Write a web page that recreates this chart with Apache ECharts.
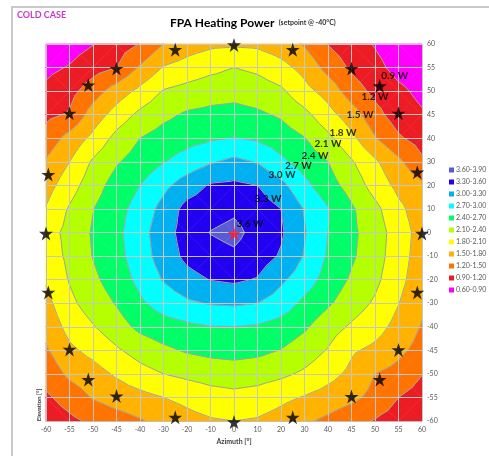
<!DOCTYPE html>
<html>
<head>
<meta charset="utf-8">
<script src="https://cdn.jsdelivr.net/npm/echarts@6/dist/echarts.min.js"></script>
<style>
  html, body { margin: 0; padding: 0; background: #ffffff; }
  #chart { width: 489px; height: 456px; }
</style>
</head>
<body>
<div id="chart"></div>
<script>
// Sample grid: azimuth columns and elevation rows (top row = +60°)
const azimuth = [-60, -55, -50, -45, -40, -30, -20, -10, 0, 10, 20, 30, 40, 45, 50, 55, 60];
const elevation = [60, 55, 50, 45, 40, 30, 20, 10, 0, -10, -20, -30, -40, -45, -50, -55, -60];

// FPA heating power [W], one row per elevation, columns follow azimuth
const p60  = [0.70, 0.77, 0.89, 1.06, 1.21, 1.50, 1.66, 1.74, 1.76, 1.74, 1.64, 1.47, 1.19, 1.03, 0.88, 0.74, 0.64];
const p55  = [0.83, 0.92, 1.08, 1.20, 1.53, 1.82, 1.92, 2.02, 2.10, 2.04, 1.90, 1.70, 1.40, 1.15, 0.98, 0.81, 0.73];
const p50  = [0.96, 1.10, 1.36, 1.64, 1.88, 2.12, 2.20, 2.27, 2.30, 2.25, 2.15, 1.90, 1.68, 1.35, 1.12, 0.96, 0.83];
const p45  = [1.13, 1.23, 1.63, 1.93, 2.17, 2.33, 2.44, 2.48, 2.50, 2.45, 2.36, 2.18, 1.91, 1.64, 1.30, 1.05, 0.93];
const p40  = [1.32, 1.60, 1.88, 2.19, 2.40, 2.52, 2.60, 2.66, 2.71, 2.66, 2.55, 2.41, 2.17, 1.88, 1.52, 1.24, 1.08];
const p30  = [1.53, 1.80, 2.14, 2.37, 2.53, 2.69, 2.82, 2.97, 3.07, 2.98, 2.76, 2.57, 2.40, 2.13, 1.85, 1.56, 1.25];
const p20  = [1.68, 1.97, 2.27, 2.52, 2.70, 2.92, 3.15, 3.33, 3.36, 3.30, 3.08, 2.78, 2.52, 2.28, 1.98, 1.72, 1.56];
const p10  = [1.82, 2.13, 2.39, 2.60, 2.81, 3.10, 3.40, 3.48, 3.55, 3.45, 3.30, 2.98, 2.72, 2.44, 2.18, 1.87, 1.64];
const p0   = [1.97, 2.19, 2.43, 2.63, 2.88, 3.18, 3.42, 3.61, 3.68, 3.50, 3.34, 3.02, 2.70, 2.46, 2.25, 1.95, 1.68];
const m10  = [1.92, 2.17, 2.41, 2.61, 2.85, 3.14, 3.37, 3.49, 3.55, 3.44, 3.27, 2.98, 2.67, 2.44, 2.23, 1.93, 1.66];
const m20  = [1.83, 2.12, 2.34, 2.54, 2.78, 3.02, 3.20, 3.31, 3.35, 3.28, 3.05, 2.85, 2.58, 2.36, 2.17, 1.89, 1.62];
const m30  = [1.71, 2.03, 2.24, 2.42, 2.65, 2.83, 2.95, 3.02, 3.04, 3.00, 2.86, 2.63, 2.44, 2.24, 2.06, 1.81, 1.55];
const m40  = [1.59, 1.90, 2.08, 2.27, 2.47, 2.57, 2.64, 2.69, 2.70, 2.67, 2.58, 2.44, 2.23, 2.06, 1.92, 1.70, 1.48];
const m45  = [1.46, 1.74, 1.89, 2.06, 2.22, 2.34, 2.43, 2.48, 2.50, 2.47, 2.39, 2.26, 2.08, 1.84, 1.73, 1.57, 1.39];
const m50  = [1.31, 1.56, 1.68, 1.84, 1.99, 2.10, 2.17, 2.23, 2.26, 2.23, 2.16, 2.05, 1.90, 1.73, 1.50, 1.40, 1.21];
const m55  = [1.15, 1.33, 1.52, 1.63, 1.71, 1.80, 1.88, 1.97, 2.01, 1.97, 1.87, 1.78, 1.68, 1.57, 1.41, 1.20, 1.08];
const m60  = [1.00, 1.13, 1.26, 1.37, 1.47, 1.60, 1.70, 1.77, 1.80, 1.77, 1.68, 1.55, 1.43, 1.29, 1.18, 1.07, 0.97];
const powerRows = [p60, p55, p50, p45, p40, p30, p20, p10, p0, m10, m20, m30, m40, m45, m50, m55, m60];

// Contour levels and band colours (low to high)
const levels = [0.6, 0.9, 1.2, 1.5, 1.8, 2.1, 2.4, 2.7, 3.0, 3.3, 3.6, 3.9];
const bandColors = ['#ff00ff', '#ed1c24', '#ff7300', '#ffb300', '#ffff00', '#b4ff00',
                    '#00ff66', '#00ffff', '#00b0f0', '#2200f0', '#5a5ad6'];

// Star markers (azimuth, elevation in degrees)
const starAz = [0, -25, 25, -45, 45, -51, 51, -55, 55, -59.5, 59, -60, 60,
                -59.5, 59, -55, 55, -51, 51, -45, 45, -25, 25, 0];
const starEl = [60, 59, 59, 55, 55, 51.5, 51.3, 45.5, 45.5, 25, 26, 0, 0,
                -25, -25, -44.6, -44.7, -51, -51, -54.5, -54.6, -59, -59, -60];
const peakAz = [0];
const peakEl = [0];

// Contour annotations: level shown and anchor (azimuth, elevation)
const tagLevels = [3.6, 3.3, 3.0, 2.7, 2.4, 2.1, 1.8, 1.5, 1.2, 0.9];
const tagAz = [6.8, 14.5, 20.4, 27.4, 34.5, 40.0, 43.2, 46.8, 50.0, 54.2];
const tagEl = [3.8, 14.5, 24.7, 28.2, 32.5, 37.7, 41.2, 44.9, 48.8, 53.2];

const FONT = 'Lato, "Open Sans", "DejaVu Sans", sans-serif';
const n = azimuth.length;
const elevationAsc = elevation.slice().reverse();

// piecewise-linear map from degrees to the (evenly spaced) sample index
function toIndex(cats, v) {
  for (let k = 0; k < cats.length - 1; k++) {
    const a = cats[k], b = cats[k + 1];
    if (v >= Math.min(a, b) && v <= Math.max(a, b)) return k + (v - a) / (b - a);
  }
  return v < cats[0] ? 0 : cats.length - 1;
}
const azIdx = v => toIndex(azimuth, v);
const elIdx = v => toIndex(elevationAsc, v);

function val(ix, iy) { return powerRows[n - 1 - iy][ix]; }

// split each grid cell into four triangles around its mean value
const triangles = [];
for (let ix = 0; ix < n - 1; ix++) {
  for (let iy = 0; iy < n - 1; iy++) {
    const a = [ix, iy, val(ix, iy)];
    const b = [ix + 1, iy, val(ix + 1, iy)];
    const c = [ix + 1, iy + 1, val(ix + 1, iy + 1)];
    const d = [ix, iy + 1, val(ix, iy + 1)];
    const m = [ix + 0.5, iy + 0.5, (a[2] + b[2] + c[2] + d[2]) / 4];
    triangles.push([a, b, m], [b, c, m], [c, d, m], [d, a, m]);
  }
}

function clip(poly, lvl, above) {
  const out = [];
  for (let k = 0; k < poly.length; k++) {
    const p = poly[k], q = poly[(k + 1) % poly.length];
    const pin = above ? p[2] >= lvl : p[2] <= lvl;
    const qin = above ? q[2] >= lvl : q[2] <= lvl;
    if (pin) out.push(p);
    if (pin !== qin) {
      const t = (lvl - p[2]) / (q[2] - p[2]);
      out.push([p[0] + t * (q[0] - p[0]), p[1] + t * (q[1] - p[1]), lvl]);
    }
  }
  return out;
}

const bandNames = [];
const bandPolys = [];
for (let k = 0; k < levels.length - 1; k++) {
  const lo = levels[k], hi = levels[k + 1];
  bandNames.push(lo.toFixed(2) + '-' + hi.toFixed(2));
  const polys = [];
  triangles.forEach(t => {
    const p = clip(clip(t, lo, true), hi, false);
    if (p.length >= 3) polys.push(p);
  });
  bandPolys.push(polys);
}

// iso-line segments at every inner level
const segments = [];
levels.slice(1, -1).forEach(L0 => {
  const L = L0 + 1e-7;
  triangles.forEach(t => {
    const pts = [];
    for (let k = 0; k < 3; k++) {
      const p = t[k], q = t[(k + 1) % 3];
      if ((p[2] - L) * (q[2] - L) < 0) {
        const s = (L - p[2]) / (q[2] - p[2]);
        pts.push([p[0] + s * (q[0] - p[0]), p[1] + s * (q[1] - p[1])]);
      }
    }
    if (pts.length === 2) segments.push([pts[0][0], pts[0][1], pts[1][0], pts[1][1]]);
  });
});

function starPath() {
  let d = '';
  for (let k = 0; k < 10; k++) {
    const ang = (-90 + 36 * k) * Math.PI / 180;
    const r = k % 2 ? 19.1 : 50;
    const x = (50 + r * Math.cos(ang)).toFixed(2);
    const y = (50 + r * Math.sin(ang)).toFixed(2);
    d += (k === 0 ? 'M' : 'L') + x + ' ' + y + ' ';
  }
  return 'path://' + d + 'Z';
}
const STAR = starPath();

const bandSeries = bandPolys.map((polys, k) => ({
  type: 'custom',
  name: bandNames[k],
  coordinateSystem: 'cartesian2d',
  silent: true,
  animation: false,
  z: 1,
  itemStyle: { color: bandColors[k] },
  data: polys.map(p => [p[0][0], p[0][1]]),
  renderItem: (params, api) => {
    const poly = polys[params.dataIndex];
    return {
      type: 'polygon',
      shape: { points: poly.map(p => api.coord([p[0], p[1]])) },
      style: { fill: bandColors[k], stroke: bandColors[k], lineWidth: 0.7 }
    };
  }
}));

const option = {
  animation: false,
  backgroundColor: '#ffffff',
  textStyle: { fontFamily: FONT },
  title: [
    {
      text: 'COLD CASE', left: 17, top: 11, padding: 0,
      textStyle: { fontSize: 9, fontWeight: 'bold', color: '#c33cc3', fontFamily: FONT }
    },
    {
      text: '{t|FPA Heating Power} {s|(setpoint @ -40°C)}', left: 170, top: 14, padding: 0,
      textStyle: {
        fontFamily: FONT,
        rich: {
          t: { fontSize: 12, fontWeight: 'bold', color: '#000000', fontFamily: FONT },
          s: { fontSize: 7, color: '#333333', fontFamily: FONT }
        }
      }
    }
  ],
  legend: {
    orient: 'vertical', left: 449, top: 166, padding: 0,
    itemWidth: 5, itemHeight: 5, itemGap: 4, icon: 'rect',
    selectedMode: false,
    data: bandNames.slice().reverse(),
    textStyle: { fontSize: 7, color: '#595959', lineHeight: 8, padding: [0, 0, 0, -3], fontFamily: FONT }
  },
  grid: { left: 46, right: 67, top: 44, bottom: 35 },
  xAxis: {
    type: 'value', min: 0, max: n - 1, interval: 1, z: 4,
    axisLine: { show: true, lineStyle: { color: '#bdbdbd' } },
    axisTick: { show: false },
    axisLabel: { fontSize: 7, color: '#595959', margin: 5, formatter: v => azimuth[v], fontFamily: FONT },
    splitLine: { show: true, lineStyle: { color: '#c6c6c6', width: 1 } },
    name: 'Azimuth [°]', nameLocation: 'middle', nameGap: 16,
    nameTextStyle: { fontSize: 7, fontWeight: 'bold', color: '#404040', fontFamily: FONT }
  },
  yAxis: {
    type: 'value', min: 0, max: n - 1, interval: 1, position: 'right', z: 4,
    axisLine: { show: true, lineStyle: { color: '#bdbdbd' } },
    axisTick: { show: false },
    axisLabel: { fontSize: 7, color: '#595959', margin: 5, formatter: v => elevationAsc[v], fontFamily: FONT },
    splitLine: { show: true, lineStyle: { color: '#c6c6c6', width: 1 } }
  },
  graphic: [
    {
      type: 'polyline', silent: true,
      shape: { points: [[12, 456], [12, 7], [489, 7]] },
      style: { stroke: '#b8b8b8', lineWidth: 1.5, fill: null }
    },
    {
      type: 'text', silent: true, x: 39, y: 405, rotation: Math.PI / 2,
      style: {
        text: 'Elevation [°]', fontSize: 6, fontWeight: 'bold', fill: '#404040',
        align: 'center', verticalAlign: 'middle', fontFamily: FONT
      }
    }
  ],
  series: bandSeries.concat([
    {
      type: 'custom',
      name: 'isolines',
      coordinateSystem: 'cartesian2d',
      silent: true, animation: false, z: 2,
      data: segments,
      encode: { x: [0, 2], y: [1, 3] },
      renderItem: (params, api) => {
        const a = api.coord([api.value(0), api.value(1)]);
        const b = api.coord([api.value(2), api.value(3)]);
        return {
          type: 'line',
          shape: { x1: a[0], y1: a[1], x2: b[0], y2: b[1] },
          style: { stroke: '#a3a3a3', lineWidth: 1 }
        };
      }
    },
    {
      type: 'scatter', name: 'stars', silent: true, z: 6,
      symbol: STAR, symbolSize: 14, symbolOffset: [0, 1],
      itemStyle: { color: '#000000' },
      data: starAz.map((a, k) => [azIdx(a), elIdx(starEl[k])])
    },
    {
      type: 'scatter', name: 'peak', silent: true, z: 7,
      symbol: STAR, symbolSize: 13, symbolOffset: [0, 1],
      itemStyle: { color: '#ff1a1a' },
      data: peakAz.map((a, k) => [azIdx(a), elIdx(peakEl[k])])
    },
    {
      type: 'scatter', name: 'tags', silent: true, z: 8,
      symbolSize: 0,
      data: tagLevels.map((v, k) => [azIdx(tagAz[k]), elIdx(tagEl[k]), v]),
      label: {
        show: true, position: 'inside',
        formatter: p => p.value[2].toFixed(1) + ' W',
        fontSize: 10, fontWeight: 'bold', color: '#000000', fontFamily: FONT
      }
    }
  ])
};

const chart = echarts.init(document.getElementById('chart'), null, { renderer: 'canvas' });
chart.setOption(option);
</script>
</body>
</html>
